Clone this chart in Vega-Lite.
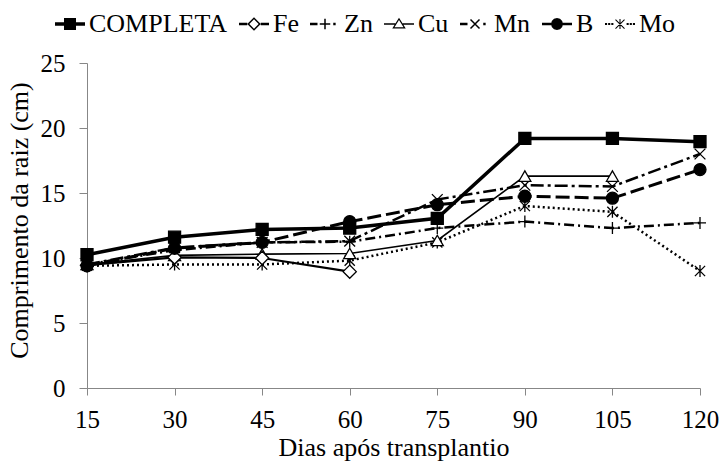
{
  "$schema": "https://vega.github.io/schema/vega-lite/v6.json",
  "width": 613,
  "height": 325,
  "autosize": {"type": "none"},
  "padding": {"left": 87, "top": 63, "right": 22, "bottom": 75},
  "background": "white",
  "config": {"view": {"stroke": null}, "font": "Liberation Serif"},
  "data": {"values": [
    {"day": 15, "series": "Mo", "v": 9.4},
    {"day": 30, "series": "Mo", "v": 9.5},
    {"day": 45, "series": "Mo", "v": 9.5},
    {"day": 60, "series": "Mo", "v": 9.8},
    {"day": 75, "series": "Mo", "v": 11.2},
    {"day": 90, "series": "Mo", "v": 14.0},
    {"day": 105, "series": "Mo", "v": 13.55},
    {"day": 120, "series": "Mo", "v": 9.0},
    {"day": 15, "series": "Zn", "v": 9.5},
    {"day": 30, "series": "Zn", "v": 10.6},
    {"day": 45, "series": "Zn", "v": 11.2},
    {"day": 60, "series": "Zn", "v": 11.25},
    {"day": 75, "series": "Zn", "v": 12.3},
    {"day": 90, "series": "Zn", "v": 12.8},
    {"day": 105, "series": "Zn", "v": 12.3},
    {"day": 120, "series": "Zn", "v": 12.7},
    {"day": 15, "series": "Mn", "v": 9.5},
    {"day": 30, "series": "Mn", "v": 10.8},
    {"day": 45, "series": "Mn", "v": 11.2},
    {"day": 60, "series": "Mn", "v": 11.3},
    {"day": 75, "series": "Mn", "v": 14.5},
    {"day": 90, "series": "Mn", "v": 15.6},
    {"day": 105, "series": "Mn", "v": 15.5},
    {"day": 120, "series": "Mn", "v": 18.0},
    {"day": 15, "series": "Cu", "v": 9.5},
    {"day": 30, "series": "Cu", "v": 10.2},
    {"day": 45, "series": "Cu", "v": 10.3},
    {"day": 60, "series": "Cu", "v": 10.35},
    {"day": 75, "series": "Cu", "v": 11.35},
    {"day": 90, "series": "Cu", "v": 16.3},
    {"day": 105, "series": "Cu", "v": 16.3},
    {"day": 15, "series": "Fe", "v": 9.45},
    {"day": 30, "series": "Fe", "v": 10.05},
    {"day": 45, "series": "Fe", "v": 10.0},
    {"day": 60, "series": "Fe", "v": 8.95},
    {"day": 15, "series": "B", "v": 9.4},
    {"day": 30, "series": "B", "v": 10.75},
    {"day": 45, "series": "B", "v": 11.2},
    {"day": 60, "series": "B", "v": 12.8},
    {"day": 75, "series": "B", "v": 14.1},
    {"day": 90, "series": "B", "v": 14.75},
    {"day": 105, "series": "B", "v": 14.6},
    {"day": 120, "series": "B", "v": 16.8},
    {"day": 15, "series": "COMPLETA", "v": 10.25},
    {"day": 30, "series": "COMPLETA", "v": 11.6},
    {"day": 45, "series": "COMPLETA", "v": 12.2},
    {"day": 60, "series": "COMPLETA", "v": 12.3},
    {"day": 75, "series": "COMPLETA", "v": 13.05},
    {"day": 90, "series": "COMPLETA", "v": 19.2},
    {"day": 105, "series": "COMPLETA", "v": 19.2},
    {"day": 120, "series": "COMPLETA", "v": 18.95}
  ]},
  "encoding": {
    "x": {
      "field": "day", "type": "quantitative",
      "scale": {"domain": [15, 120], "nice": false, "zero": false},
      "axis": {
        "title": "Dias após transplantio",
        "values": [15, 30, 45, 60, 75, 90, 105, 120],
        "grid": false,
        "domainColor": "#878787", "tickColor": "#878787", "tickSize": 7,
        "labelFont": "Liberation Serif", "labelFontSize": 25, "labelColor": "black",
        "labelBaseline": "alphabetic", "labelPadding": 32,
        "labelFlush": false, "labelOverlap": false,
        "titleFont": "Liberation Serif", "titleFontSize": 26, "titleFontWeight": "normal",
        "titleColor": "black", "titleBaseline": "alphabetic", "titleY": 67
      }
    },
    "y": {
      "field": "v", "type": "quantitative",
      "scale": {"domain": [0, 25], "nice": false},
      "axis": {
        "title": "Comprimento da raiz (cm)",
        "values": [0, 5, 10, 15, 20, 25],
        "grid": false,
        "domainColor": "#878787", "tickColor": "#878787", "tickSize": 8,
        "labelFont": "Liberation Serif", "labelFontSize": 25, "labelColor": "black",
        "labelPadding": 14, "labelOverlap": false,
        "titleFont": "Liberation Serif", "titleFontSize": 26, "titleFontWeight": "normal",
        "titleColor": "black", "titleBaseline": "alphabetic", "titleX": -60, "titleY": 157
      }
    }
  },
  "layer": [
    {"transform": [{"filter": "datum.series == 'Mo'"}], "mark": {"type": "line", "color": "black", "strokeWidth": 2.5, "strokeDash": [2, 3]}},
    {"transform": [{"filter": "datum.series == 'Zn'"}], "mark": {"type": "line", "color": "black", "strokeWidth": 2.5, "strokeDash": [10, 4, 2, 4]}},
    {"transform": [{"filter": "datum.series == 'Mn'"}], "mark": {"type": "line", "color": "black", "strokeWidth": 2.5, "strokeDash": [13, 4, 3, 4]}},
    {"transform": [{"filter": "datum.series == 'Cu'"}], "mark": {"type": "line", "color": "black", "strokeWidth": 1.6}},
    {"transform": [{"filter": "datum.series == 'Fe'"}], "mark": {"type": "line", "color": "black", "strokeWidth": 2.2}},
    {"transform": [{"filter": "datum.series == 'B'"}], "mark": {"type": "line", "color": "black", "strokeWidth": 3, "strokeDash": [14, 5]}},
    {"transform": [{"filter": "datum.series == 'COMPLETA'"}], "mark": {"type": "line", "color": "black", "strokeWidth": 3.5}},
    {
      "mark": {"type": "point", "filled": true, "stroke": "black", "strokeWidth": 1.3, "opacity": 1, "size": 144},
      "encoding": {
        "shape": {
          "field": "series", "type": "nominal", "legend": null,
          "scale": {
            "domain": ["COMPLETA", "Fe", "Zn", "Cu", "Mn", "B", "Mo"],
            "range": [
              "square",
              "M0,-1.1L1.1,0L0,1.1L-1.1,0Z",
              "M-1,0H1M0,-1V1",
              "triangle-up",
              "M-0.9,-0.9L0.9,0.9M-0.9,0.9L0.9,-0.9",
              "circle",
              "M-0.85,-0.85L0.85,0.85M-0.85,0.85L0.85,-0.85M0,-1V1"
            ]
          }
        },
        "fill": {
          "field": "series", "type": "nominal", "legend": null,
          "scale": {
            "domain": ["COMPLETA", "Fe", "Zn", "Cu", "Mn", "B", "Mo"],
            "range": ["black", "white", "black", "white", "black", "black", "black"]
          }
        }
      }
    },
    {
      "transform": [{"filter": "false"}],
      "mark": {"type": "point", "filled": true, "color": "black", "opacity": 1, "strokeWidth": 0},
      "encoding": {
        "shape": {
          "field": "series", "type": "nominal",
          "scale": {
            "domain": ["COMPLETA", "Fe", "Zn", "Cu", "Mn", "B", "Mo"],
            "range": [
              "M-1,-0.12H1V0.12H-1ZM-0.4,-0.4H0.4V0.4H-0.4Z",
              "M-1,-0.08H-0.45V0.08H-1ZM0.45,-0.08H1V0.08H0.45ZM0,-0.45L0.45,0L0,0.45L-0.45,0ZM0,-0.31L-0.31,0L0,0.31L0.31,0Z",
              "M-1,-0.08H-0.5V0.08H-1ZM-0.35,-0.05H0.35V0.05H-0.35ZM-0.05,-0.35H0.05V0.35H-0.05ZM0.55,-0.08H0.71V0.08H0.55Z",
              "M-1,-0.05H-0.25V0.05H-1ZM0.25,-0.05H1V0.05H0.25ZM0,-0.42L0.45,0.3H-0.45ZM0,-0.27L-0.3,0.21H0.3Z",
              "M-1,-0.08H-0.5V0.08H-1ZM-0.265,-0.335L0.335,0.265L0.265,0.335L-0.335,-0.265ZM0.265,-0.335L0.335,-0.265L-0.265,0.335L-0.335,0.265ZM0.55,-0.08H0.71V0.08H0.55Z",
              "M-1,-0.08H-0.3V0.08H-1ZM0.3,-0.08H1V0.08H0.3ZM0.4,0L0.346,0.2L0.2,0.346L0,0.4L-0.2,0.346L-0.346,0.2L-0.4,0L-0.346,-0.2L-0.2,-0.346L0,-0.4L0.2,-0.346L0.346,-0.2Z",
              "M-1,-0.07H-0.86V0.07H-1ZM-0.79,-0.07H-0.65V0.07H-0.79ZM-0.58,-0.07H-0.44V0.07H-0.58ZM-0.275,-0.325L0.325,0.275L0.275,0.325L-0.325,-0.275ZM0.275,-0.325L0.325,-0.275L-0.275,0.325L-0.325,0.275ZM-0.035,-0.34H0.035V0.34H-0.035ZM0.44,-0.07H0.58V0.07H0.44ZM0.65,-0.07H0.79V0.07H0.65ZM0.86,-0.07H1V0.07H0.86Z"
            ]
          },
          "legend": {
            "title": null, "orient": "none", "legendX": -32, "legendY": -54,
            "direction": "horizontal", "columns": 7,
            "symbolSize": 900, "symbolStrokeWidth": 0, "symbolFillColor": "black",
            "labelFont": "Liberation Serif", "labelFontSize": 26, "labelColor": "black",
            "labelOffset": 4, "columnPadding": 11, "labelLimit": 400
          }
        }
      }
    }
  ],
  "resolve": {"scale": {"shape": "independent", "fill": "independent"}}
}
